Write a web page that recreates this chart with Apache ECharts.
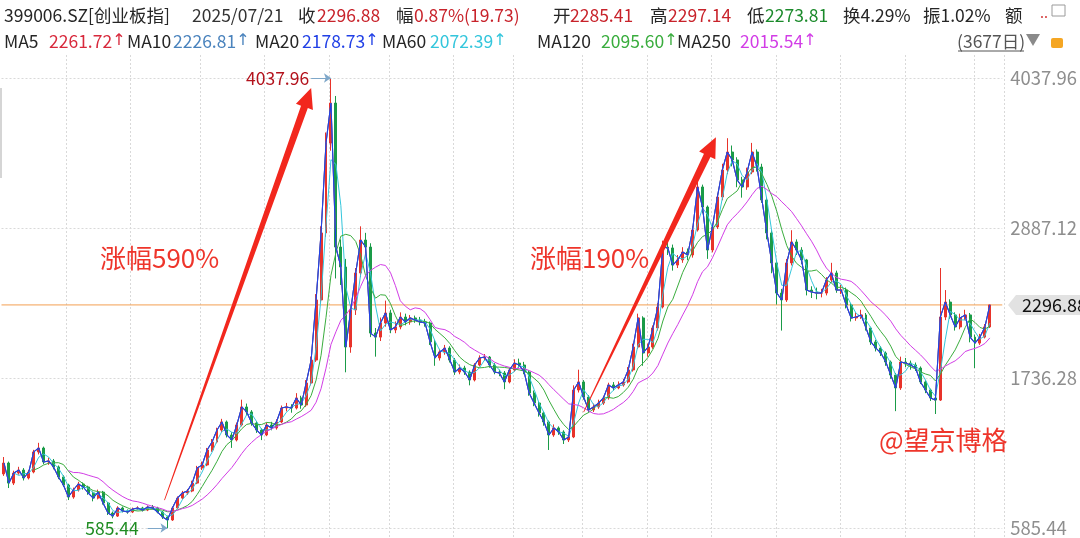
<!DOCTYPE html>
<html><head><meta charset="utf-8">
<script src="https://cdn.jsdelivr.net/npm/echarts@6/dist/echarts.min.js"></script>
<style>html,body{margin:0;padding:0;background:#fff}#c{width:1080px;height:538px}</style>
</head><body><div id="c"></div>
<script>
// ---------------- data (~18.4 trading days per sample) ----------------
const startOpen = 1000;
const closes = [
1084, 930, 1007, 1030, 969, 1015, 1169, 1199, 1092, 1100,
1054, 977, 915, 823, 877, 923, 900, 854, 815, 861,
777, 700, 677, 739, 716, 708, 731, 739, 723, 746,
739, 708, 670, 647, 739, 815, 854, 869, 930, 1046,
1069, 1184, 1245, 1337, 1399, 1299, 1261, 1376, 1514, 1476,
1391, 1337, 1299, 1376, 1353, 1399, 1506, 1514, 1506, 1583,
1529, 1698, 1874, 2335, 2849, 3539, 3846, 2741, 2588, 1974,
2258, 2542, 2795, 2741, 2081, 2050, 2158, 2235, 2105, 2128,
2204, 2166, 2197, 2181, 2166, 2158, 2013, 1890, 1936, 1966,
1874, 1782, 1813, 1782, 1721, 1836, 1890, 1897, 1836, 1782,
1775, 1706, 1798, 1851, 1836, 1782, 1621, 1544, 1468, 1399,
1299, 1353, 1322, 1261, 1284, 1644, 1706, 1590, 1491, 1514,
1544, 1583, 1683, 1660, 1683, 1706, 1798, 1974, 2197, 1928,
1974, 2120, 2281, 2741, 2734, 2603, 2642, 2703, 2680, 2872,
3202, 3048, 2718, 2895, 3125, 3332, 3470, 3409, 3255, 3202,
3317, 3470, 3355, 3102, 2849, 2619, 2388, 2335, 2619, 2780,
2718, 2642, 2411, 2396, 2388, 2388, 2488, 2542, 2411, 2411,
2296, 2197, 2204, 2220, 2120, 2013, 1966, 1928, 1859, 1759,
1660, 1859, 1851, 1836, 1813, 1706, 1644, 1583, 1567, 2204,
2319, 2220, 2128, 2197, 2220, 2050, 2004, 2050, 2128, 2296.88
];
const highs = [
1130, 1095, 1025, 1055, 1045, 1030, 1185, 1239, 1210, 1125,
1115, 1065, 990, 925, 895, 940, 935, 910, 865, 880,
870, 785, 712, 752, 750, 728, 742, 752, 748, 758,
762, 748, 715, 680, 750, 828, 870, 885, 948, 1062,
1095, 1200, 1268, 1355, 1423, 1410, 1320, 1395, 1570, 1540,
1490, 1405, 1350, 1395, 1400, 1420, 1525, 1545, 1535, 1620,
1600, 1720, 1900, 2380, 2900, 3620, 4037.96, 3900, 2800, 2650,
2300, 2580, 2900, 2850, 2770, 2120, 2200, 2330, 2260, 2170,
2240, 2230, 2220, 2215, 2205, 2190, 2170, 2030, 1960, 1990,
1980, 1890, 1840, 1830, 1795, 1850, 1910, 1920, 1905, 1850,
1800, 1790, 1815, 1880, 1885, 1860, 1795, 1640, 1560, 1480,
1410, 1380, 1365, 1335, 1300, 1680, 1800, 1720, 1605, 1540,
1570, 1600, 1700, 1705, 1710, 1730, 1820, 2000, 2230, 2210,
2000, 2140, 2310, 2790, 2850, 2760, 2680, 2740, 2730, 2900,
3250, 3220, 3060, 2920, 3150, 3380, 3576, 3520, 3430, 3280,
3350, 3540, 3490, 3380, 3120, 2870, 2640, 2420, 2650, 2870,
2800, 2740, 2650, 2440, 2430, 2420, 2510, 2620, 2560, 2450,
2430, 2310, 2240, 2260, 2235, 2130, 2030, 1980, 1940, 1870,
1775, 1900, 1890, 1870, 1855, 1825, 1720, 1655, 1600, 2580,
2411, 2340, 2240, 2230, 2260, 2235, 2070, 2075, 2150, 2297.14
];
const lows = [
985, 892, 915, 995, 950, 958, 1005, 1150, 1075, 1070,
1035, 960, 900, 800, 810, 865, 880, 840, 790, 805,
765, 685, 660, 670, 705, 695, 700, 722, 712, 715,
728, 698, 655, 585.44, 640, 732, 805, 840, 860, 922,
1030, 1060, 1170, 1235, 1320, 1280, 1200, 1250, 1365, 1450,
1370, 1315, 1260, 1290, 1335, 1340, 1390, 1480, 1470, 1495,
1500, 1515, 1680, 1860, 2310, 2820, 3480, 2500, 2450, 1780,
1930, 2220, 2510, 2680, 2050, 1900, 2020, 2130, 2080, 2080,
2110, 2140, 2145, 2160, 2140, 2130, 1990, 1830, 1870, 1915,
1855, 1760, 1765, 1760, 1680, 1710, 1825, 1870, 1815, 1765,
1750, 1650, 1695, 1785, 1815, 1765, 1600, 1520, 1440, 1370,
1184, 1285, 1300, 1230, 1245, 1275, 1625, 1570, 1470, 1475,
1500, 1530, 1570, 1640, 1650, 1670, 1695, 1785, 1960, 1830,
1900, 1960, 2100, 2270, 2680, 2560, 2580, 2620, 2640, 2660,
2860, 3000, 2650, 2700, 2880, 3100, 3300, 3360, 3200, 3120,
3180, 3300, 3320, 3080, 2800, 2540, 2300, 2100, 2320, 2600,
2680, 2610, 2370, 2350, 2340, 2355, 2370, 2470, 2390, 2380,
2270, 2170, 2175, 2190, 2100, 1990, 1940, 1905, 1830, 1730,
1482, 1645, 1820, 1800, 1790, 1690, 1620, 1560, 1460, 1560,
2180, 2190, 2100, 2110, 2180, 2010, 1813, 1990, 2040, 2120
];
const totalDays = 3677;
const yTicks = [585.44, 1736.28, 2887.12, 4037.96];
const maPeriods = [5, 10, 20, 60, 120, 250];
const maNames = ['MA5', 'MA10', 'MA20', 'MA60', 'MA120', 'MA250'];
const maLast = ['2261.72', '2226.81', '2178.73', '2072.39', '2095.60', '2015.54'];
const maTrend = ['↑', '↑', '↑', '↑', '↑', '↑'];
const quoteLabels = ['收', '幅', '开', '高', '低'];
const quoteValues = ['2296.88', '0.87%(19.73)', '2285.41', '2297.14', '2273.81'];
const titleText = '399006.SZ[创业板指]';
const dateText = '2025/07/21';
const extraText = ['换4.29%', '振1.02%', '额'];
const daysText = '(3677日)';
const notes = ['涨幅590%', '涨幅190%', '@望京博格'];

// ---------------- styles ----------------
const FONT = '"Noto Sans CJK SC", "Noto Sans", sans-serif';
const UP = '#e8332a', DOWN = '#1a9b48';
const maColors = ['#d8293c', '#4a83bd', '#2140e6', '#34c6dc', '#3aad3e', '#d23de6'];
const RED = '#c8232b', GREEN = '#1b8a2b';
const HF = 17.5;

const N = closes.length;
const cats = closes.map((_, i) => 'k' + i).concat(['pad1', 'pad2']);
const candles = closes.map((c, i) => [i === 0 ? startOpen : closes[i - 1], c, lows[i], highs[i]]);
const perSample = totalDays / N;
function maLine(p) {
  const w = Math.max(1, Math.round(p / perSample));
  return closes.map((_, i) => {
    if (i < w - 1) return '-';
    let s = 0; for (let k = i - w + 1; k <= i; k++) s += closes[k];
    return +(s / w).toFixed(2);
  });
}
const peakIdx = highs.indexOf(Math.max(...highs));
const lowIdx = lows.indexOf(Math.min(...lows));
const lastClose = closes[N - 1];

const gridPos = { left: 1.5, right: 75.6 };
const vGridIdx = [13, 26, 40, 53, 66, 78, 91, 103, 117, 130, 143, 156, 169, 182, 196];

const chart = echarts.init(document.getElementById('c'));
chart.setOption({
  animation: false,
  backgroundColor: '#ffffff',
  textStyle: { fontFamily: FONT },
  grid: [
    { left: gridPos.left, right: gridPos.right, top: 78, bottom: 10 },
    { left: gridPos.left, right: gridPos.right, top: 55, bottom: 0 }
  ],
  xAxis: [
    { type: 'category', gridIndex: 0, data: cats, boundaryGap: true,
      axisLine: { show: false }, axisTick: { show: false }, axisLabel: { show: false }, splitLine: { show: false } },
    { type: 'category', gridIndex: 1, data: cats, boundaryGap: true,
      axisLine: { show: false }, axisTick: { show: false }, axisLabel: { show: false },
      splitLine: { show: true, interval: (i) => vGridIdx.includes(i), lineStyle: { color: '#d9d9d9', type: [2, 2], width: 1 } } }
  ],
  yAxis: [
    { type: 'value', gridIndex: 0, position: 'right', min: yTicks[0], max: yTicks[3],
      interval: yTicks[1] - yTicks[0],
      axisLine: { show: false }, axisTick: { show: false },
      axisLabel: { color: '#8e8e8e', fontSize: 18.5, margin: 8, fontFamily: FONT, formatter: v => v.toFixed(2) },
      splitLine: { show: true, lineStyle: { color: '#d9d9d9', type: [2, 2], width: 1 } } },
    { type: 'value', gridIndex: 1, show: false, min: 0, max: 1 }
  ],
  series: [
    { type: 'candlestick', name: 'K', data: candles, barMaxWidth: 3.4, z: 2,
      itemStyle: { color: UP, color0: DOWN, borderColor: UP, borderColor0: DOWN, borderWidth: 1 },
      markLine: {
        silent: true, symbol: ['none', 'arrow'], symbolSize: 7,
        data: [
          [ { coord: [peakIdx - 4, highs[peakIdx]], lineStyle: { color: '#7ea7c9', width: 1, type: 'solid' },
              label: { show: true, position: 'start', formatter: highs[peakIdx].toFixed(2), color: '#b3121c', fontSize: 17.5, fontFamily: FONT, distance: 2 } },
            { coord: [peakIdx, highs[peakIdx]] } ],
          [ { coord: [lowIdx - 4, lows[lowIdx]], lineStyle: { color: '#7ea7c9', width: 1, type: 'solid' },
              label: { show: true, position: 'start', formatter: lows[lowIdx].toFixed(2), color: '#1f8c22', fontSize: 17.5, fontFamily: FONT, distance: 9 } },
            { coord: [lowIdx, lows[lowIdx]] } ]
        ]
      }
    },
    ...maPeriods.map((p, k) => ({
      type: 'line', name: maNames[k], data: maLine(p), symbol: 'none', smooth: false,
      z: [4, 4, 5, 3, 3, 3][k],
      lineStyle: { color: maColors[k], width: [1, 1, 1.1, 1, 1, 1][k] }
    }))
  ]
});

// ---------------- annotations anchored to data space ----------------
function px(idx, val) {
  const i0 = Math.floor(idx), f = idx - i0;
  const a = chart.convertToPixel({ gridIndex: 0 }, [i0, val]);
  const b = chart.convertToPixel({ gridIndex: 0 }, [i0 + 1, val]);
  return [a[0] + (b[0] - a[0]) * f, a[1]];
}
const arrows = [ { from: [32.4, 800], to: [62.0, 3961] }, { from: [117.0, 1475], to: [143.7, 3583] } ];
function arrowPoly(p0, p1) {
  const dx = p1[0] - p0[0], dy = p1[1] - p0[1], L = Math.hypot(dx, dy);
  const ux = dx / L, uy = dy / L, nx = -uy, ny = ux;
  const head = 20, hw = 9, w0 = 0.4, w1 = 3.6;
  const B = [p1[0] - ux * head, p1[1] - uy * head];
  return [
    [p0[0] + nx * w0, p0[1] + ny * w0], [B[0] + nx * w1, B[1] + ny * w1], [B[0] + nx * hw, B[1] + ny * hw],
    p1, [B[0] - nx * hw, B[1] - ny * hw], [B[0] - nx * w1, B[1] - ny * w1], [p0[0] - nx * w0, p0[1] - ny * w0]
  ];
}
const g = [];
arrows.forEach(a => g.push({ type: 'polygon', shape: { points: arrowPoly(px(a.from[0], a.from[1]), px(a.to[0], a.to[1])) }, style: { fill: '#f2271d' }, z: 50 }));

function txt(x, y, text, fill, size, extra) {
  return Object.assign({ type: 'text', x: x, y: y, z: 60, style: { text: text, fill: fill, font: size + 'px ' + FONT, verticalAlign: 'middle' } }, extra || {});
}

// last-price line across the plot
const py = px(N - 1, lastClose)[1];
const gridRect = chart.getModel().getComponent('grid', 0).coordinateSystem.getRect();
g.push({ type: 'line', shape: { x1: gridRect.x, y1: py, x2: gridRect.x + gridRect.width, y2: py }, style: { stroke: '#f4a052', lineWidth: 1 }, z: 1, silent: true });

// note texts
g.push(txt(100, 258, notes[0], '#ee352b', 26));
g.push(txt(530, 258, notes[1], '#ee352b', 26));
g.push(txt(879, 440, notes[2], '#ee352b', 26));

// header row 1
const row1x = { title: 4, date: 192, labels: [298, 396, 553, 650, 747], values: [317, 414, 570, 668, 765], extra: [843, 923, 1005] };
g.push(txt(row1x.title, 15, titleText, '#262626', HF));
g.push(txt(row1x.date, 15, dateText, '#333', HF));
quoteLabels.forEach((l, i) => {
  g.push(txt(row1x.labels[i], 15, l, '#262626', HF));
  g.push(txt(row1x.values[i], 15, quoteValues[i], i === 4 ? GREEN : RED, HF));
});
extraText.forEach((t, i) => g.push(txt(row1x.extra[i], 15, t, '#262626', HF)));
g.push(txt(1040, 13, '..', '#d23030', 14));
g.push({ type: 'rect', shape: { x: 1052, y: 5, width: 13, height: 11 }, style: { fill: 'none', stroke: '#9a9a9a', lineWidth: 1 }, z: 60 });

// header row 2
const row2x = { names: [4, 127, 255, 382, 537, 677], values: [49, 173, 302, 430, 601, 740] };
maNames.forEach((n, i) => {
  g.push(txt(row2x.names[i], 41, n, '#262626', HF));
  g.push({ type: 'text', x: row2x.values[i], y: 41, z: 60, style: {
    text: '{v|' + maLast[i] + '}{a|' + maTrend[i] + '}', verticalAlign: 'middle',
    rich: { v: { fill: maColors[i], font: HF + 'px ' + FONT }, a: { fill: maColors[i], font: '16px "DejaVu Sans", sans-serif', width: 8 } } } });
});
g.push(txt(957, 41, daysText, '#555', HF));
g.push({ type: 'line', shape: { x1: 958, y1: 51, x2: 1024, y2: 51 }, style: { stroke: '#555', lineWidth: 1 }, z: 60 });
g.push({ type: 'polygon', shape: { points: [[1026, 34], [1040, 34], [1033, 46]] }, style: { fill: '#8a8a8a' }, z: 60 });
g.push({ type: 'rect', shape: { x: 1051, y: 38, width: 12, height: 10, r: 2 }, style: { fill: '#f5a623' }, z: 60 });
g.push({ type: 'rect', shape: { x: 1063, y: 30, width: 17, height: 20 }, style: { fill: '#fff' }, z: 59 });

// left scroll marker
g.push({ type: 'rect', shape: { x: 0, y: 88, width: 2, height: 90 }, style: { fill: '#d5d5d5' }, z: 40 });

// last price tag
g.push({ type: 'polygon', shape: { points: [[1008, py], [1016, py - 10], [1090, py - 10], [1090, py + 10], [1016, py + 10]] }, style: { fill: '#e2e2e2' }, z: 60 });
g.push(txt(1022, py, lastClose.toFixed(2), '#111', 18, { z: 61 }));

chart.setOption({ graphic: g });
</script>
</body></html>
